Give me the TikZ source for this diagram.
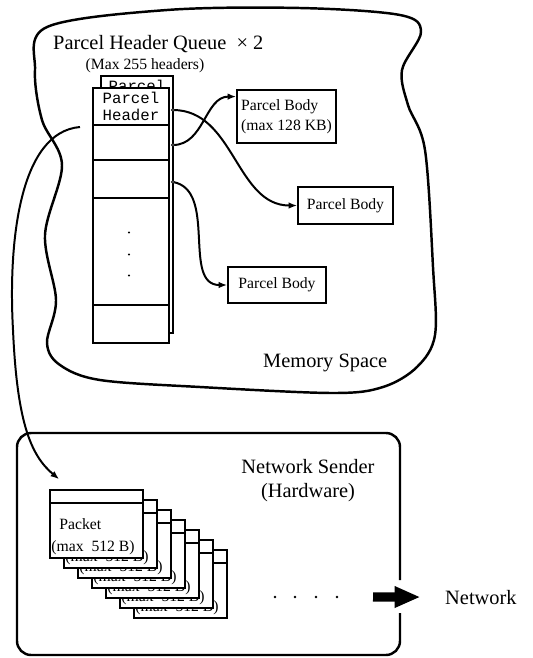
\documentclass[tikz,border=0pt]{standalone}
\usepackage{fontspec}
\setmainfont{Liberation Serif}
\setmonofont{Liberation Mono}
\usetikzlibrary{arrows.meta,positioning,calc}

\begin{document}
\begin{tikzpicture}[x=0.03cm,y=-0.03cm,>={Latex[length=2.6mm,width=2mm]},
  big/.style={font=\fontsize{17.4}{21}\selectfont},
  small/.style={font=\fontsize{13.4}{17}\selectfont},
  mono/.style={font=\ttfamily\fontsize{13.4}{14.5}\selectfont},
  cell/.style={draw,line width=1.4pt,fill=white,minimum width=2.28cm,inner sep=0pt,outer sep=0pt},
  body/.style={draw,line width=1.4pt,small,inner sep=0pt},
  link/.style={->,line width=1.7pt},
  pkt/.style={draw,line width=1.4pt,fill=white,minimum width=2.79cm,minimum height=2.04cm,inner sep=0pt}]

  \useasboundingbox (0,0) rectangle (533,658);

  % memory space
  \draw[line width=2.1pt] plot[smooth cycle,tension=0.55] coordinates {
    (47,27) (167,10) (300,8) (400,15) (421,32) (402,70) (408,105) (425,150)
    (433,267) (435,335) (417,367) (383,387) (333,393) (200,387) (100,380)
    (60,365) (47,343) (56,300) (45,235) (62,165) (42,120) (35,70)};
  \node[big,anchor=base west,inner sep=0pt] (title) at (53,49) {Parcel Header Queue\ \ × 2};
  \node[small,anchor=base,inner sep=0pt] (maxhdr) at (145,69) {(Max 255 headers)};
  \node[big,anchor=base west,inner sep=0pt] (mem) at (263,367) {Memory Space};

  % header queue
  \node[cell,minimum width=2.16cm,minimum height=7.71cm] (qback) at (137,204.5) {};
  \node[mono,align=center,anchor=north,inner sep=0pt] (hdrback) at ($(qback.north)+(0,4)$) {Parcel\\Header};
  \node[cell,mono,align=center,minimum height=1.11cm] (hdr) at (131,106.5) {Parcel\\Header};
  \node[cell,minimum height=1.05cm,below=0pt of hdr] (q1) {};
  \node[cell,minimum height=1.14cm,below=0pt of q1] (q2) {};
  \node[cell,minimum height=3.21cm,below=0pt of q2] (q3) {};
  \node[cell,minimum height=1.14cm,below=0pt of q3] (q4) {};
  \foreach \dy in {-19,3,24}
    \fill ($(q3.center)+(-2,\dy)$) circle (0.9pt);

  \coordinate (s1) at (173,110);
  \coordinate (s2) at (173,145);
  \coordinate (s3) at (173,182);

  \node[body,minimum width=2.97cm,minimum height=1.59cm,align=left] (body1) at (286.5,116.5) {Parcel Body\\(max 128 KB)};
  \node[body,minimum width=2.85cm,minimum height=1.11cm] (body2) at (345.5,205.5) {Parcel Body};
  \node[body,minimum width=2.94cm,minimum height=1.08cm] (body3) at (277,285) {Parcel Body};

  \draw[link] (s2) to[out=0,in=180] ([yshift=17pt]body1.west);
  \draw[link] (s1) to[out=0,in=180] (body2.west);
  \draw[link] (s3) to[out=-10,in=180] (body3.west);
  \foreach \s in {s1,s2,s3}
    \draw[line width=0.8pt,fill=white] (\s) circle (1.3pt);

  % network sender
  \draw[line width=2.1pt,rounded corners=12pt] (400,613) -- (400,655) -- (17,655) -- (17,433) -- (400,433) -- (400,580);
  \node[big,anchor=north,inner sep=0pt,align=center] (sender) at (308,459) {Network Sender\\(Hardware)};

  \foreach \k in {6,5,...,0} {
    \node[pkt] (pk\k) at ({96.5+14*\k},{524+10*\k}) {};
    \draw[line width=1.4pt] ($(pk\k.north west)+(0,14)$) -- ($(pk\k.north east)+(0,14)$);
    \node[small,anchor=base west,inner sep=0pt] (pkname\k) at ($(pk\k.north west)+(10,40)$) {Packet};
    \node[small,anchor=base west,inner sep=0pt] (pksize\k) at ($(pk\k.north west)+(2,62)$) {(max~ 512 B)};
  }

  \coordinate (grab) at (80,127);
  \draw[link] (grab) .. controls (20,132) and (8,240) .. (13,330)
    .. controls (17,420) and (30,455) .. ([xshift=8.5pt,yshift=8.5pt]pk0.north west);

  \foreach \x in {275,295,316,337}
    \fill (\x,597) circle (1.1pt);
  \coordinate (gate) at (373,597);
  \node[big,anchor=base west,inner sep=0pt] (net) at (445,604) {Network};
  \draw[-{Triangle[length=22pt,width=17pt]},line width=8pt] (gate) -- ([xshift=-21pt]net.west);
\end{tikzpicture}
\end{document}
